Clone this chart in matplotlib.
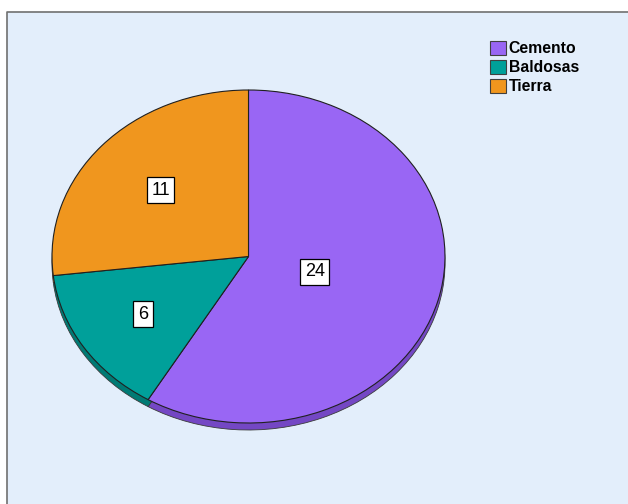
import numpy as np
import matplotlib.pyplot as plt
from matplotlib.patches import Rectangle

categories = ['Cemento', 'Baldosas', 'Tierra']
counts = [24, 6, 11]
colors = ['#9966F4', '#00A09A', '#F0961E']
side_colors = ['#7447C4', '#007A74', '#C2750F']
label_r = [0.35, 0.64, 0.60]

plt.rcParams['font.family'] = ['Liberation Sans', 'DejaVu Sans']

fig = plt.figure(figsize=(6.28, 5.04), dpi=100)
W, H = 628, 504

# chart frame (light blue panel with grey top/left border)
bg = fig.add_axes([0, 0, 1, 1])
bg.set_xlim(0, W)
bg.set_ylim(H, 0)
bg.axis('off')
bg.add_patch(Rectangle((7, 12), W, H, facecolor='#E3EEFB', edgecolor='none'))
bg.plot([7, 7, W], [H, 12, 12], color='#707070', lw=1.2)

# pie axes stretched so the circle becomes a tilted ellipse
x0, x1, y0, y1 = 52, 445, 90, 423
ax = fig.add_axes([x0 / W, (H - y1) / H, (x1 - x0) / W, (y1 - y0) / H])
depth = 2 * 7 / (y1 - y0)

# darker copy shifted down gives the pie its thickness
ax.pie(counts, colors=side_colors, startangle=90, counterclock=False,
       center=(0, -depth), radius=1,
       wedgeprops=dict(edgecolor='#3a3a3a', linewidth=0.6))
wedges, _ = ax.pie(counts, colors=colors, startangle=90, counterclock=False,
                   radius=1,
                   wedgeprops=dict(edgecolor='#202020', linewidth=0.8))

for w, n, r in zip(wedges, counts, label_r):
    mid = np.deg2rad((w.theta1 + w.theta2) / 2)
    ax.text(r * np.cos(mid), r * np.sin(mid), str(n), ha='center', va='center',
            fontsize=13, color='black',
            bbox=dict(boxstyle='square,pad=0.25', facecolor='white',
                      edgecolor='black', linewidth=0.9))

ax.set_aspect('auto')
ax.set_xlim(-1, 1)
ax.set_ylim(-1, 1)
ax.axis('off')

handles = [Rectangle((0, 0), 1, 1, facecolor=c, edgecolor='#404040', linewidth=0.8)
           for c in colors]
fig.legend(handles, categories, loc='upper left',
           bbox_to_anchor=(490 / W, 1 - 41 / H), frameon=False,
           prop=dict(size=11.3, weight='bold'), handlelength=1.0,
           handleheight=1.0, handletextpad=0.2, labelspacing=0.22,
           borderaxespad=0, borderpad=0)

fig.savefig('out.png', dpi=100)
